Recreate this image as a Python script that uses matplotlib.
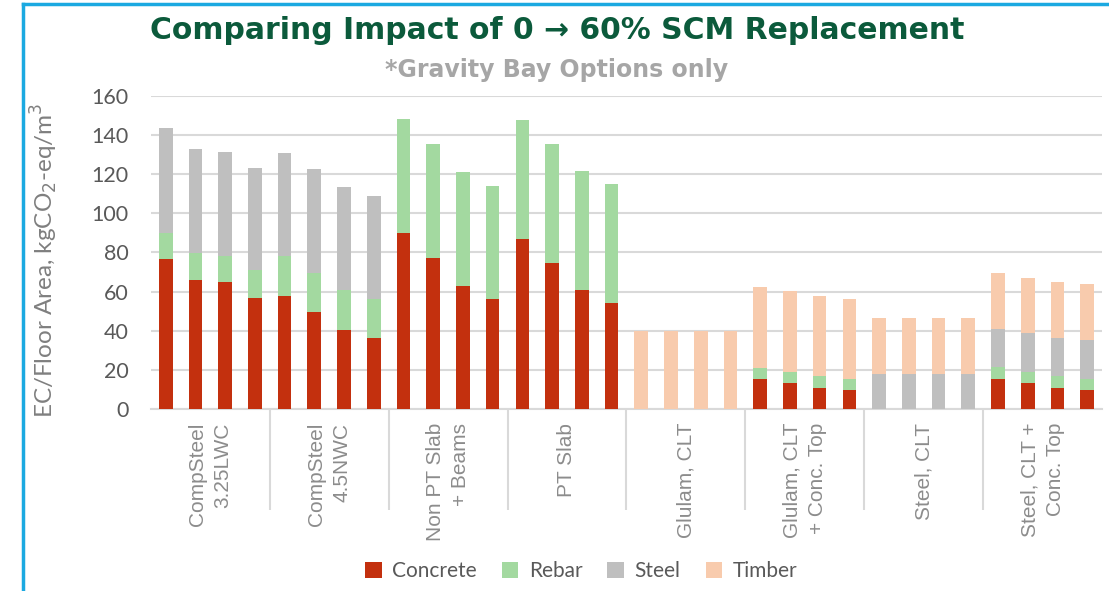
import matplotlib.pyplot as plt
from matplotlib.lines import Line2D
import numpy as np

# stacked components per bar (kgCO2-eq/m3), 4 bars per system (0 -> 60% SCM)
concrete = [76.6, 66.0, 64.7, 56.5, 57.7, 49.5, 40.5, 36.1,
            89.9, 77.1, 63.0, 56.0, 87.0, 74.7, 60.9, 54.1,
            0, 0, 0, 0, 15.3, 13.3, 10.9, 9.7,
            0, 0, 0, 0, 15.3, 13.3, 10.9, 9.7]
rebar = [13.6, 13.7, 13.3, 14.3, 20.3, 19.9, 20.1, 20.2,
         58.4, 58.4, 58.2, 58.2, 60.9, 61.0, 61.0, 61.0,
         0, 0, 0, 0, 5.6, 5.6, 5.8, 5.8,
         0, 0, 0, 0, 6.0, 5.8, 5.8, 5.8]
steel = [53.3, 53.2, 53.6, 52.6, 53.1, 53.5, 53.1, 52.8,
         0, 0, 0, 0, 0, 0, 0, 0,
         0, 0, 0, 0, 0, 0, 0, 0,
         17.7, 17.7, 17.7, 17.7, 19.6, 19.7, 19.7, 19.6]
timber = [0, 0, 0, 0, 0, 0, 0, 0,
          0, 0, 0, 0, 0, 0, 0, 0,
          40.0, 40.0, 40.0, 40.0, 41.2, 41.2, 40.8, 40.8,
          28.6, 28.6, 28.6, 28.6, 28.5, 28.4, 28.6, 28.7]
groups = ["CompSteel\n3.25LWC", "CompSteel\n4.5NWC", "Non PT Slab\n+ Beams", "PT Slab",
          "Glulam, CLT", "Glulam, CLT\n+ Conc. Top", "Steel, CLT", "Steel, CLT +\nConc. Top"]
series = ["Concrete", "Rebar", "Steel", "Timber"]
colors = ["#C3300E", "#A3D9A0", "#BFBFBF", "#F8CBAD"]

per_group = 4
x = np.arange(len(concrete))

fig = plt.figure(figsize=(11.09, 5.91), dpi=100)
ax = fig.add_axes([0.136, 0.308, 0.8577, 0.5296])

bottom = np.zeros(len(x))
for vals, name, col in zip([concrete, rebar, steel, timber], series, colors):
    vals = np.array(vals)
    ax.bar(x, vals, width=0.46, bottom=bottom, color=col, label=name, zorder=3)
    bottom += vals

ax.set_xlim(-0.5, len(x) - 0.5)
ax.set_ylim(0, 160)
ax.set_yticks(range(0, 161, 20))
ax.grid(axis="y", color="#D9D9D9", linewidth=1.5, zorder=0)
for s in ["top", "right", "left"]:
    ax.spines[s].set_visible(False)
ax.spines["bottom"].set_color("#D9D9D9")
ax.spines["bottom"].set_linewidth(1.5)

centers = np.arange(len(groups)) * per_group + (per_group - 1) / 2
bounds = np.arange(1, len(groups)) * per_group - 0.5
ax.set_xticks(centers)
ax.set_xticklabels(groups, rotation=90, va="top", ha="center", multialignment="right",
                   fontsize=15, color="#8C8C8C", family="Liberation Sans", linespacing=1.45)
ax.set_xticks(bounds, minor=True)
ax.tick_params(axis="x", which="major", length=0, pad=10)
ax.tick_params(axis="x", which="minor", length=73, color="#D9D9D9", width=1.5)
ax.tick_params(axis="y", length=0, pad=16, labelsize=15.5, labelcolor="#595959")
for t in ax.get_yticklabels():
    t.set_family("Lato")

ax.set_ylabel("EC/Floor Area, kgCO$_2$-eq/m$^3$", fontsize=17.5, color="#7F7F7F",
              family="Lato")
ax.yaxis.set_label_coords(-0.095, 0.475)

fig.text(0.502, 0.948, "Comparing Impact of 0 \u2192 60% SCM Replacement",
         ha="center", va="center", fontsize=21.5, fontweight="black", color="#0B5A3B",
         family="DejaVu Sans")
fig.text(0.502, 0.882, "*Gravity Bay Options only", ha="center", va="center",
         fontsize=17, fontweight="bold", color="#A6A6A6", family="DejaVu Sans")

fig.legend(loc="center", bbox_to_anchor=(0.524, 0.033), ncol=4, frameon=False,
           labelcolor="#595959", handlelength=0.8, handleheight=0.8,
           handletextpad=0.5, columnspacing=1.2, prop={"family": "Lato", "size": 15})

# blue frame edges
fig.add_artist(Line2D([0.021, 0.021], [0, 0.993], color="#1BA9E1", linewidth=2.5,
                      transform=fig.transFigure))
fig.add_artist(Line2D([0.021, 1.0], [0.993, 0.993], color="#1BA9E1", linewidth=2.5,
                      transform=fig.transFigure))

fig.savefig("out.png", dpi=100)
